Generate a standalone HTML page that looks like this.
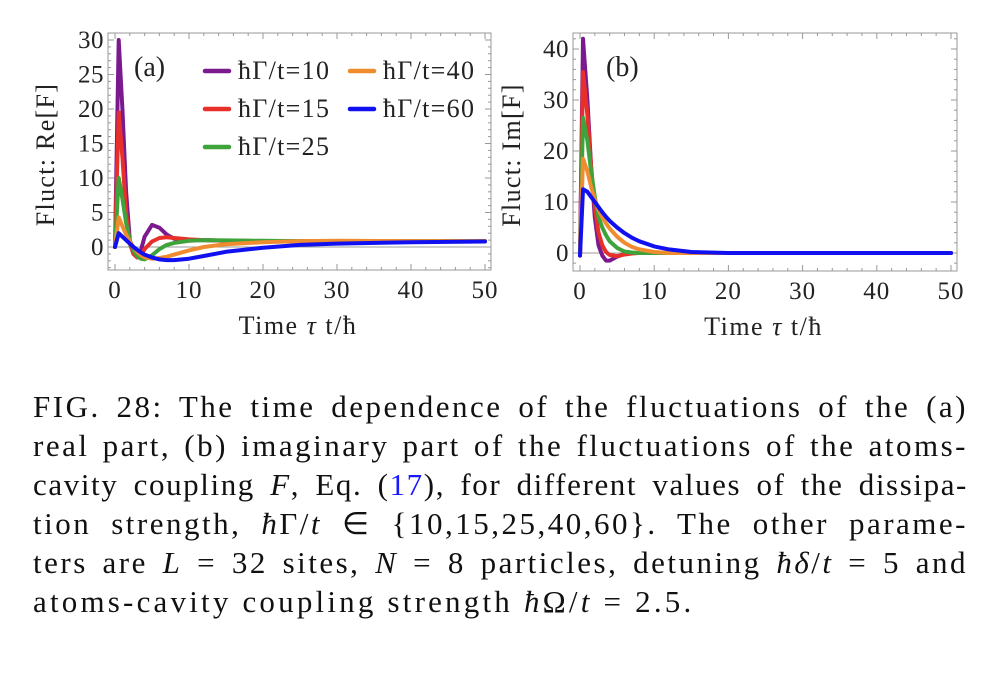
<!DOCTYPE html>
<html><head><meta charset="utf-8"><style>
body{margin:0;background:#fff;width:1000px;height:686px;overflow:hidden;font-family:"Liberation Serif",serif;}
svg text{font-family:"Liberation Serif",serif;fill:#222;}
.cap{position:absolute;left:33px;width:935px;font-size:31px;line-height:39px;top:387px;color:#111;letter-spacing:2.5px;}
.cap div{text-align:justify;text-align-last:justify;white-space:nowrap;}
.cap div.last{text-align-last:left;}
</style></head><body>
<svg id="chart" width="1000" height="380" style="position:absolute;left:0;top:0"></svg>
<div class="cap">
<div>FIG. 28: The time dependence of the fluctuations of the (a)</div>
<div>real part, (b) imaginary part of the fluctuations of the atoms-</div>
<div style="letter-spacing:1.6px">cavity coupling <i>F</i>, Eq. (<span style="color:#1a1aff">17</span>), for different values of the dissipa-</div>
<div>tion strength, <i>ħ</i>Γ/<i>t</i> ∈ {10,15,25,40,60}. The other parame-</div>
<div>ters are <i>L</i> = 32 sites, <i>N</i> = 8 particles, detuning <i>ħδ</i>/<i>t</i> = 5 and</div>
<div class="last" style="letter-spacing:3.2px">atoms-cavity coupling strength <i>ħ</i>Ω/<i>t</i> = 2.5.</div>
</div>
<script>
const colors=["#7b1a8f","#e8302a","#3ea33a","#f08c30","#1010f0"];
const labels=["ħΓ/t=10","ħΓ/t=15","ħΓ/t=25","ħΓ/t=40","ħΓ/t=60"];
const xTicks=[0,10,20,30,40,50];
const reTicks=[0,5,10,15,20,25,30];
const imTicks=[0,10,20,30,40];
const tRe=[0,0.5,1,1.5,2,2.5,3,3.5,4,5,6,7,8,10,12,15,20,25,30,40,50];
const re10=[0,30,20,8,1,-1,-1.5,-0.5,1.5,3.2,2.8,1.8,1.2,1,1,0.9,0.85,0.85,0.85,0.85,0.85];
const re15=[0,19.5,13,5,0.5,-1,-1.5,-1.2,-0.3,0.8,1.3,1.4,1.3,1.1,1,0.9,0.85,0.85,0.85,0.85,0.85];
const re25=[0,10,7,3.5,1,-0.5,-1.3,-1.7,-1.8,-1.2,-0.3,0.3,0.6,0.9,1,0.95,0.9,0.85,0.85,0.85,0.85];
const re40=[0,4.3,3,1.8,0.8,0,-0.7,-1.2,-1.5,-1.7,-1.6,-1.4,-1.1,-0.5,0,0.4,0.7,0.85,0.9,0.85,0.85];
const re60=[0,2,1.5,1,0.5,0,-0.4,-0.8,-1.1,-1.5,-1.8,-1.9,-1.9,-1.7,-1.3,-0.7,-0.1,0.3,0.5,0.7,0.8];
const tIm=[0,0.4,1,1.5,2,2.5,3,3.5,4,5,6,7,8,10,12,15,20,30,50];
const im10=[-0.5,42,30,17,7,1.5,-0.5,-1.5,-1.5,-0.7,-0.2,0,0,0,0,0,0,0,0];
const im15=[-0.5,35.5,27,17,9,4,1.5,0.2,-0.4,-0.6,-0.3,-0.1,0,0,0,0,0,0,0];
const im25=[-0.5,26.5,22,16,11,7,5,3.5,2.3,1,0.3,0.1,0,0,0,0,0,0,0];
const im40=[-0.5,18.5,16,13,10.5,8.5,7,5.8,4.8,3.2,2,1.2,0.7,0.2,0,0,0,0,0];
const im60=[-0.5,12.5,12,11,10,9,8,7.1,6.3,5,3.9,3,2.3,1.3,0.7,0.2,0,0,0];
const reSeries=[re10,re15,re25,re40,re60];
const imSeries=[im10,im15,im25,im40,im60];

const NS="http://www.w3.org/2000/svg";
const svg=document.getElementById('chart');
function mk(tag,attrs,parent){const e=document.createElementNS(NS,tag);for(const k in attrs)e.setAttribute(k,attrs[k]);(parent||svg).appendChild(e);return e;}

function panel(cfg){
  const g=mk('g',{});
  
  
  const X=v=>cfg.x0+(v-0)*(cfg.x50-cfg.x0)/50;
  const Y=v=>cfg.y0-v*cfg.ys;
  const fr=mk('rect',{x:cfg.fl,y:cfg.ft,width:cfg.fr-cfg.fl,height:cfg.fb-cfg.ft,fill:'none',stroke:'#999','stroke-width':1},g);
  
  
  for(let v=0;v<=50;v+=2){const big=v%10===0;const L=big?6:3;
    mk('line',{x1:X(v),x2:X(v),y1:cfg.fb,y2:cfg.fb-L,stroke:'#999'},g);
    mk('line',{x1:X(v),x2:X(v),y1:cfg.ft,y2:cfg.ft+L,stroke:'#999'},g);}
  for(let v=cfg.ymin;v<=cfg.ymax;v+=cfg.minor){const big=Math.abs(v%cfg.major)<1e-6;const L=big?6:3;
    mk('line',{x1:cfg.fl,x2:cfg.fl+L,y1:Y(v),y2:Y(v),stroke:'#999'},g);
    mk('line',{x1:cfg.fr,x2:cfg.fr-L,y1:Y(v),y2:Y(v),stroke:'#999'},g);}
  mk('line',{x1:cfg.fl,x2:cfg.fr,y1:Y(0),y2:Y(0),stroke:'#999'},g);
  xTicks.forEach(v=>{const t=mk('text',{x:X(v),y:cfg.fb+28,'text-anchor':'middle','font-size':25,'letter-spacing':1},g);t.textContent=v;
    
    });
  cfg.yTicks.forEach(v=>{const t=mk('text',{x:cfg.fl-4,y:Y(v)+8,'text-anchor':'end','font-size':25,'letter-spacing':0.5},g);t.textContent=v;
    
    });
  const xt=mk('text',{x:(cfg.x0+cfg.x50)/2-2,y:cfg.fb+64,'text-anchor':'middle','font-size':26,'letter-spacing':1.5},g);
  xt.innerHTML='Time <tspan font-style="italic">τ</tspan> t/ħ';
  
  
  const yt=mk('text',{x:0,y:0,'text-anchor':'middle','font-size':26,'letter-spacing':1.3,transform:`translate(${cfg.ytx},${(cfg.ft+cfg.fb)/2+3}) rotate(-90)`},g);
  yt.textContent=cfg.ytitle;
  
  
  const pl=mk('text',{x:cfg.plx,y:cfg.ply,'font-size':28},g);pl.textContent=cfg.plabel;
  
  
  cfg.series.forEach((s,i)=>{
    const d=s.map((v,j)=>(j?'L':'M')+X(cfg.t[j]).toFixed(1)+','+Y(v).toFixed(1)).join(' ');
    const p=mk('path',{d,fill:'none',stroke:colors[i],'stroke-width':4,'stroke-linejoin':'round','stroke-linecap':'round'},g);
    
    
  });
}
panel({name:'panel-a-real',fl:108,fr:491,ft:33,fb:270,x0:115,x50:485,y0:247,ys:6.9,ymin:-3,ymax:31,minor:1,major:5,
  yTicks:reTicks,ytitle:'Fluct: Re[F]',ytx:54,plabel:'(a)',plx:134,ply:76,t:tRe,series:reSeries});
panel({name:'panel-b-imag',fl:573,fr:957,ft:33,fb:271,x0:580,x50:951,y0:253,ys:5.1,ymin:-2,ymax:42,minor:2,major:10,
  yTicks:imTicks,ytitle:'Fluct: Im[F]',ytx:520,plabel:'(b)',plx:606,ply:76,t:tIm,series:imSeries});
const legPos=[[205,79],[205,117],[205,155],[350,79],[350,117]];
[0,1,2,3,4].forEach(i=>{const [x,y]=legPos[i];
  const g=mk('g',{});
  
  
  mk('line',{x1:x,x2:x+24,y1:y-8,y2:y-8,stroke:colors[i],'stroke-width':4.5,'stroke-linecap':'round'},g);
  const t=mk('text',{x:x+33,y:y,'font-size':26,'letter-spacing':1.3},g);t.textContent=labels[i];
});
</script>
</body></html>
